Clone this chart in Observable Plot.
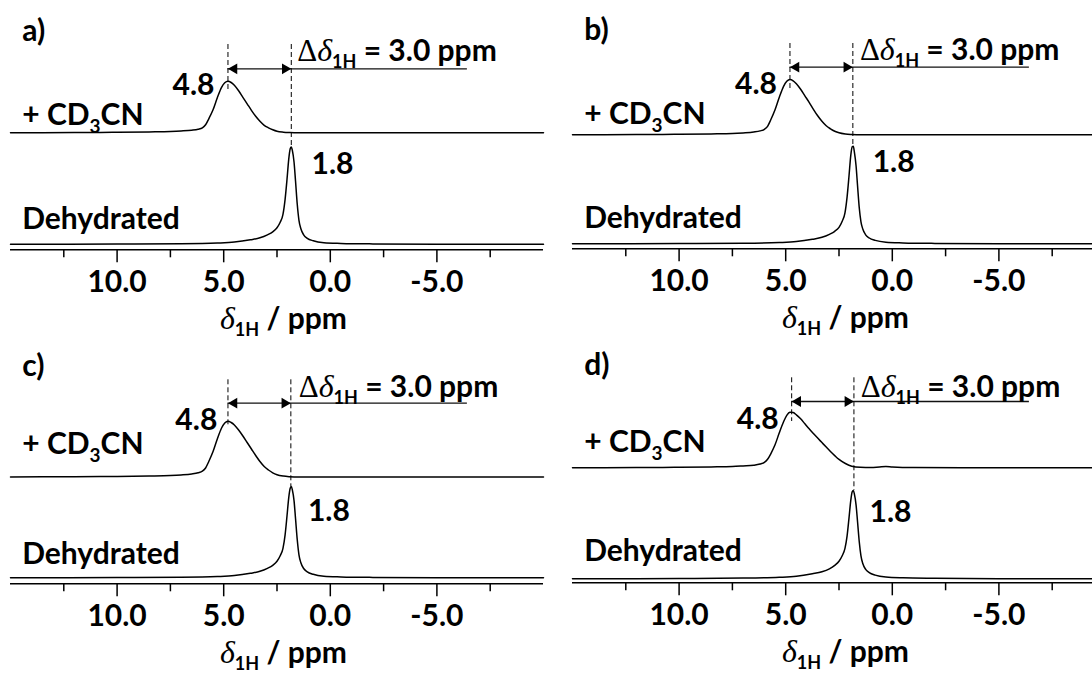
<!DOCTYPE html>
<html><head><meta charset="utf-8">
<script src="https://cdn.jsdelivr.net/npm/d3@7"></script>
<script src="https://cdn.jsdelivr.net/npm/@observablehq/plot@0.6"></script>
<style>
html,body{margin:0;padding:0;background:#fff;}
#fig{position:relative;width:1092px;height:675px;overflow:hidden;background:#fff;}
#fig svg{position:absolute;overflow:visible;background:transparent;}
</style></head><body><div id="fig"></div>
<script>
// ---------- data ----------
const panelLabels = ["a)", "b)", "c)", "d)"];
const seriesLabels = ["+ CD3CN", "Dehydrated"];
const peakLabels = ["4.8", "1.8"];
const shiftLabel = "Δδ1H = 3.0 ppm";
const axisTitle = "δ1H / ppm";
const majorTicks = [10, 5, 0, -5];
const minorTicks = [12.5, 7.5, 2.5, -2.5, -7.5];

// chemical shift grids (ppm)
const ppmCD = [15, 12, 10, 8.5, 7.5, 7.0, 6.5, 6.2, 6.0, 5.85, 5.7, 5.5, 5.3, 5.1, 4.95, 4.8, 4.65, 4.5, 4.3, 4.1, 3.9, 3.7, 3.5, 3.3, 3.1, 2.9, 2.7, 2.5, 2.2, 1.9, 1.5, 1.0, 0.6, 0.3, 0.0, -1.0, -5, -10];
const ppmDH = [15, 10, 7, 5.3, 4.5, 3.75, 3.3, 2.95, 2.7, 2.5, 2.35, 2.22, 2.12, 2.03, 1.95, 1.88, 1.83, 1.78, 1.70, 1.63, 1.55, 1.47, 1.38, 1.25, 1.08, 0.8, 0.3, -0.5, -2, -5, -10];

// intensities (a.u.), + CD3CN spectra
const cdA = [0, 0.3, 0.5, 0.9, 1.3, 1.8, 2.6, 3.6, 5.0, 8, 14, 23, 35, 45.5, 50, 51.6, 50.3, 47.5, 42, 35.5, 29, 22.5, 16.5, 11.5, 7.5, 5, 3, 1.5, 0.6, 0.2, 0, 0, 0, 0, 0, 0, 0, 0];
const cdB = [0, 0.3, 0.5, 0.9, 1.3, 1.9, 2.8, 3.9, 5.5, 8.5, 15, 25, 37.5, 48.5, 53.5, 55.3, 54, 51, 45.5, 39, 32.5, 25.5, 19, 13.5, 9, 6, 3.6, 2, 0.8, 0.3, 0, 0, 0, 0, 0, 0, 0, 0];
const cdC = [0, 0.3, 0.5, 0.9, 1.4, 2.0, 3.0, 4.2, 5.8, 9, 15.5, 25.5, 38, 49, 54, 55.8, 54.5, 52, 47, 41, 34.5, 28, 21.5, 15.5, 10.5, 7, 4.2, 2.3, 0.9, 0.3, 0, 0, 0, 0, 0, 0, 0, 0];
const cdD = [0, 0.3, 0.5, 0.9, 1.3, 1.9, 2.6, 3.8, 5.5, 8.5, 14, 23, 35, 46, 52.5, 55.6, 55.2, 53, 49, 44, 39, 34.3, 29.7, 25.2, 20.7, 16.3, 12.2, 8.4, 4.3, 1.6, 0.5, 0.3, 0.9, 1.3, 0.8, 0.2, 0, 0];
// Dehydrated spectra
const dhA = [0, 0.3, 0.6, 1.3, 2.2, 4.5, 6.5, 9.5, 12.5, 16.5, 22, 30, 45, 65, 85, 95.5, 97.3, 94, 82, 63, 40, 24, 15.5, 9.5, 6, 3.5, 1.6, 0.9, 0.4, 0.1, 0];
const dhB = [0, 0.3, 0.6, 1.3, 2.2, 4.5, 6.5, 9.5, 12.5, 16.5, 22.5, 31, 47, 68, 88, 97, 97.6, 92, 78, 58, 36, 22, 14.5, 9, 5.8, 3.4, 1.6, 0.9, 0.4, 0.1, 0];
const dhC = [0, 0.3, 0.6, 1.3, 2.2, 4.5, 6.5, 9.5, 12.5, 16.5, 22, 29.5, 43, 62, 80, 89.5, 91.3, 88, 77, 59, 38, 23, 15, 9.3, 6, 3.5, 1.6, 0.9, 0.4, 0.1, 0];
const dhD = [0, 0.3, 0.7, 1.5, 2.5, 5, 7, 10, 13.5, 17.5, 23, 30.5, 43, 61, 78, 87, 88.3, 85, 74, 57, 37, 23, 15, 9.5, 6.2, 3.7, 1.8, 1.0, 0.5, 0.1, 0];

// peak positions marked by dashed lines (ppm)
const peakCD = [4.8, 4.8, 4.8, 4.72];
const peakDH = [1.83, 1.85, 1.85, 1.80];

// ---------- layout ----------
const AXIS_Y = 249.3;
const panels = [
  {left: 0, top: 0, w: 546, h: 334, ml: 10, mr: 3, cd: cdA, dh: dhA, cdOff: 117, dhOff: 5.5,
   labY: 209.3, cdLabY: 125.3, dhLabY: 21.3, l48: [5.43, 155.3], l18: [0.88, 76.3], sh: [1.55, 189.3], arrY: 181, dashTop: 205.3, dash1Bot: 159.3},
  {left: 546, top: -1, w: 562, h: 335, ml: 26, mr: 3, cd: cdB, dh: dhB, cdOff: 114, dhOff: 5,
   labY: 209.3, cdLabY: 125.3, dhLabY: 21.3, l48: [5.41, 155.3], l18: [0.92, 77.3], sh: [1.52, 189.3], arrY: 181.6, dashTop: 205.3, dash1Bot: 160},
  {left: 0, top: 334, w: 546, h: 341, ml: 10, mr: 3, cd: cdC, dh: dhC, cdOff: 106.8, dhOff: 6,
   labY: 208.3, cdLabY: 129.8, dhLabY: 20, l48: [5.3, 154], l18: [1.05, 63.3], sh: [1.48, 187.3], arrY: 180.6, dashTop: 204, dash1Bot: 157.3},
  {left: 546, top: 333, w: 562, h: 342, ml: 26, mr: 3, cd: cdD, dh: dhD, cdOff: 115, dhOff: 4,
   labY: 208.3, cdLabY: 130.6, dhLabY: 22.3, l48: [5.33, 154], l18: [1.07, 61.3], sh: [1.48, 186.3], arrY: 181.3, dashTop: 205, dash1Bot: 161.3}
];
const LAB_X = 14.45;
const SHIFT_END = -6.43;
const TITLE_X = 2.2, TITLE_Y = -79.5;
const FONT = "Lato, 'Open Sans', sans-serif";
const FS = 30;

function richify(svg) {
  d3.select(svg).selectAll("text").each(function () {
    const t = this.textContent;
    const sel = d3.select(this);
    if (t === seriesLabels[0]) {
      sel.text(null);
      sel.append("tspan").text("+ CD");
      sel.append("tspan").attr("font-size", 19).attr("dy", 8).text("3");
      sel.append("tspan").attr("dy", -8).text("CN");
    } else if (t === shiftLabel) {
      sel.text(null);
      sel.append("tspan").attr("font-family", "'Liberation Serif', serif").attr("font-weight", "normal").attr("font-size", 31).text("Δ");
      sel.append("tspan").attr("font-family", "'Liberation Serif', serif").attr("font-style", "italic").attr("font-weight", "normal").attr("font-size", 32).text("δ");
      sel.append("tspan").attr("font-size", 18).attr("dy", 7).text("1H");
      sel.append("tspan").attr("dy", -7).text(" = 3.0 ppm");
    } else if (t === axisTitle) {
      sel.text(null);
      sel.append("tspan").attr("font-family", "'Liberation Serif', serif").attr("font-style", "italic").attr("font-weight", "normal").attr("font-size", 32).text("δ");
      sel.append("tspan").attr("font-size", 18).attr("dy", 7).text("1H");
      sel.append("tspan").attr("dy", -7).text(" / ppm");
    }
  });
}

const fig = document.getElementById("fig");
panels.forEach((p, k) => {
  const cd = ppmCD.map((x, i) => ({ppm: x, v: p.cd[i] + p.cdOff}));
  const dh = ppmDH.map((x, i) => ({ppm: x, v: p.dh[i] + p.dhOff}));
  const dhTop = d3.max(p.dh) + p.dhOff;
  const txt = {fill: "black", fontSize: FS, fontWeight: "bold", fontFamily: FONT, lineAnchor: "bottom"};
  const svg = Plot.plot({
    width: p.w, height: p.h,
    marginLeft: p.ml, marginRight: p.mr, marginTop: 0, marginBottom: p.h - AXIS_Y,
    x: {domain: [15, -10], label: null},
    y: {domain: [0, AXIS_Y], axis: null},
    style: {fontFamily: FONT, fontWeight: "bold", fontSize: FS + "px", color: "black", background: "transparent", overflow: "visible"},
    marks: [
      Plot.ruleY([0], {stroke: "black", strokeWidth: 1.5}),
      Plot.axisX({ticks: majorTicks, tickSize: 13, tickPadding: 8, tickFormat: d => d.toFixed(1), fontSize: FS, fontWeight: "bold", strokeWidth: 1.5, label: null}),
      Plot.axisX({ticks: minorTicks, tickSize: 8, tickFormat: () => "", strokeWidth: 1.5, label: null}),
      Plot.line(dh, {x: "ppm", y: "v", curve: "monotone-x", stroke: "black", strokeWidth: 1.5}),
      Plot.line(cd, {x: "ppm", y: "v", curve: "monotone-x", stroke: "black", strokeWidth: 1.5}),
      Plot.ruleX([{x: peakCD[k], y1: p.dashTop, y2: p.dash1Bot}, {x: peakDH[k], y1: p.dashTop, y2: dhTop}],
        {x: "x", y1: "y1", y2: "y2", stroke: "black", strokeWidth: 1, strokeDasharray: "5,3"}),
      Plot.ruleY([{y: p.arrY, x1: peakCD[k], x2: SHIFT_END}], {y: "y", x1: "x1", x2: "x2", stroke: "#111", strokeWidth: 1.3}),
      Plot.dot([{x: peakCD[k], y: p.arrY}], {x: "x", y: "y", symbol: "triangle", r: 4, rotate: -90, fill: "black", dx: 6.2}),
      Plot.dot([{x: peakDH[k], y: p.arrY}], {x: "x", y: "y", symbol: "triangle", r: 4, rotate: 90, fill: "black", dx: -6.2}),
      Plot.text([{x: LAB_X, y: p.labY, t: panelLabels[k]}], {x: "x", y: "y", text: "t", textAnchor: "start", ...txt}),
      Plot.text([{x: LAB_X, y: p.cdLabY, t: seriesLabels[0]}], {x: "x", y: "y", text: "t", textAnchor: "start", ...txt}),
      Plot.text([{x: LAB_X, y: p.dhLabY, t: seriesLabels[1]}], {x: "x", y: "y", text: "t", textAnchor: "start", ...txt}),
      Plot.text([{x: p.l48[0], y: p.l48[1], t: peakLabels[0]}], {x: "x", y: "y", text: "t", textAnchor: "end", ...txt}),
      Plot.text([{x: p.l18[0], y: p.l18[1], t: peakLabels[1]}], {x: "x", y: "y", text: "t", textAnchor: "start", ...txt}),
      Plot.text([{x: p.sh[0], y: p.sh[1], t: shiftLabel}], {x: "x", y: "y", text: "t", textAnchor: "start", ...txt}),
      Plot.text([{x: TITLE_X, y: TITLE_Y, t: axisTitle}], {x: "x", y: "y", text: "t", textAnchor: "middle", ...txt})
    ]
  });
  richify(svg);
  svg.style.left = p.left + "px";
  svg.style.top = p.top + "px";
  fig.appendChild(svg);
});
</script></body></html>
